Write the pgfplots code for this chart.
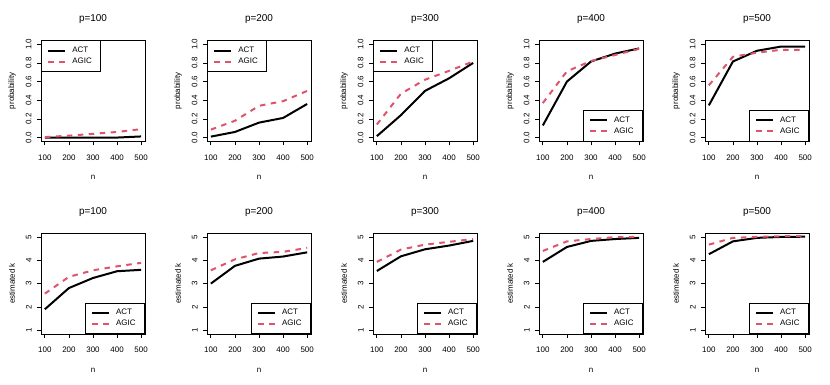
\documentclass[border=0pt]{standalone}
\usepackage{pgfplots}
\pgfplotsset{compat=1.18}
\usepackage{fontspec}
\setmainfont{Liberation Sans}
\definecolor{rred}{HTML}{DF536B}
\newcommand{\fs}{\fontsize{8}{9}\selectfont}
\pgfplotsset{
  rbase/.style={
    scale only axis, width=104bp, height=100.8bp,
    xmin=84, xmax=516, xtick={100,200,300,400,500},
    tick align=outside, major tick length=4bp,
    xtick pos=left, ytick pos=left,
    axis line style={line width=0.75bp},
    every tick/.style={black, line width=0.75bp},
    tick label style={font=\fs, inner sep=0pt},
    /pgf/number format/assume math mode=true,
    xticklabel style={anchor=north},
    yticklabel style={rotate=90, anchor=south},
    xticklabel shift=9.2bp,
    yticklabel shift=5.3bp,
    xlabel={n},
    xlabel style={at={([yshift=-36bp]axis description cs:0.5,0)}, anchor=center, font=\fs},
    ylabel style={at={([xshift=-29bp]axis description cs:0,0.5)}, anchor=center, font=\fs},
    every axis title/.style={at={([yshift=21bp]axis description cs:0.5,1)}, anchor=center, font=\fontsize{10}{12}\selectfont},
    legend style={draw=black, line width=0.75bp, fill=white, font=\fs,
      inner xsep=6bp, inner ysep=4.3bp, row sep=0bp, column sep=3bp,
      nodes={inner xsep=3bp, inner ysep=2bp}},
    legend cell align=left,
    legend image code/.code={\draw[##1] (0bp,0bp) -- (17bp,0bp);},
  },
  toprow/.style={rbase, ymin=-0.04, ymax=1.04, ytick={0,0.2,...,1.0},
    yticklabel style={/pgf/number format/fixed, /pgf/number format/fixed zerofill, /pgf/number format/precision=1},
    ylabel={probability}},
  botrow/.style={rbase, ymin=0.84, ymax=5.16, ytick={1,2,3,4,5}, ylabel={estimated k}},
  legTL/.style={legend style={at={(axis description cs:0,1)}, anchor=north west}},
  legBR/.style={legend style={at={(axis description cs:1,0)}, anchor=south east}},
  act/.style={black, line width=2bp},
  agic/.style={rred, line width=2bp, dash pattern=on 5.5bp off 5.5bp},
}
\begin{document}
\begin{tikzpicture}
\useasboundingbox (0,0) rectangle (830bp,385bp);
% ---------- top row ----------
\begin{axis}[toprow, legTL, at={(41bp,243.7bp)}, title={p=100}]
\addplot[act] coordinates {(100,0.0) (200,0.0) (300,0.0) (400,0.0) (500,0.012)};
\addplot[agic] coordinates {(100,0.005) (200,0.02) (300,0.04) (400,0.06) (500,0.09)};
\legend{ACT,AGIC}
\end{axis}
\begin{axis}[toprow, legTL, at={(207bp,243.7bp)}, title={p=200}]
\addplot[act] coordinates {(100,0.01) (200,0.06) (300,0.16) (400,0.21) (500,0.36)};
\addplot[agic] coordinates {(100,0.085) (200,0.18) (300,0.34) (400,0.39) (500,0.50)};
\legend{ACT,AGIC}
\end{axis}
\begin{axis}[toprow, legTL, at={(373bp,243.7bp)}, title={p=300}]
\addplot[act] coordinates {(100,0.015) (200,0.24) (300,0.50) (400,0.635) (500,0.80)};
\addplot[agic] coordinates {(100,0.14) (200,0.47) (300,0.62) (400,0.715) (500,0.815)};
\legend{ACT,AGIC}
\end{axis}
\begin{axis}[toprow, legBR, at={(539bp,243.7bp)}, title={p=400}]
\addplot[act] coordinates {(100,0.13) (200,0.60) (300,0.815) (400,0.90) (500,0.955)};
\addplot[agic] coordinates {(100,0.37) (200,0.71) (300,0.82) (400,0.885) (500,0.95)};
\legend{ACT,AGIC}
\end{axis}
\begin{axis}[toprow, legBR, at={(705bp,243.7bp)}, title={p=500}]
\addplot[act] coordinates {(100,0.345) (200,0.815) (300,0.93) (400,0.975) (500,0.975)};
\addplot[agic] coordinates {(100,0.56) (200,0.865) (300,0.91) (400,0.94) (500,0.94)};
\legend{ACT,AGIC}
\end{axis}
% ---------- bottom row ----------
\begin{axis}[botrow, legBR, at={(41bp,51bp)}, title={p=100}]
\addplot[act] coordinates {(100,1.9) (200,2.81) (300,3.24) (400,3.53) (500,3.59)};
\addplot[agic] coordinates {(100,2.57) (200,3.29) (300,3.57) (400,3.74) (500,3.89)};
\legend{ACT,AGIC}
\end{axis}
\begin{axis}[botrow, legBR, at={(207bp,51bp)}, title={p=200}]
\addplot[act] coordinates {(100,3.0) (200,3.76) (300,4.07) (400,4.16) (500,4.34)};
\addplot[agic] coordinates {(100,3.57) (200,4.04) (300,4.31) (400,4.36) (500,4.53)};
\legend{ACT,AGIC}
\end{axis}
\begin{axis}[botrow, legBR, at={(373bp,51bp)}, title={p=300}]
\addplot[act] coordinates {(100,3.54) (200,4.17) (300,4.47) (400,4.63) (500,4.83)};
\addplot[agic] coordinates {(100,3.93) (200,4.46) (300,4.67) (400,4.79) (500,4.91)};
\legend{ACT,AGIC}
\end{axis}
\begin{axis}[botrow, legBR, at={(539bp,51bp)}, title={p=400}]
\addplot[act] coordinates {(100,3.93) (200,4.57) (300,4.83) (400,4.91) (500,4.96)};
\addplot[agic] coordinates {(100,4.4) (200,4.81) (300,4.91) (400,4.99) (500,5.0)};
\legend{ACT,AGIC}
\end{axis}
\begin{axis}[botrow, legBR, at={(705bp,51bp)}, title={p=500}]
\addplot[act] coordinates {(100,4.26) (200,4.81) (300,4.96) (400,5.0) (500,5.01)};
\addplot[agic] coordinates {(100,4.67) (200,4.96) (300,5.0) (400,5.03) (500,5.03)};
\legend{ACT,AGIC}
\end{axis}
\end{tikzpicture}
\end{document}
